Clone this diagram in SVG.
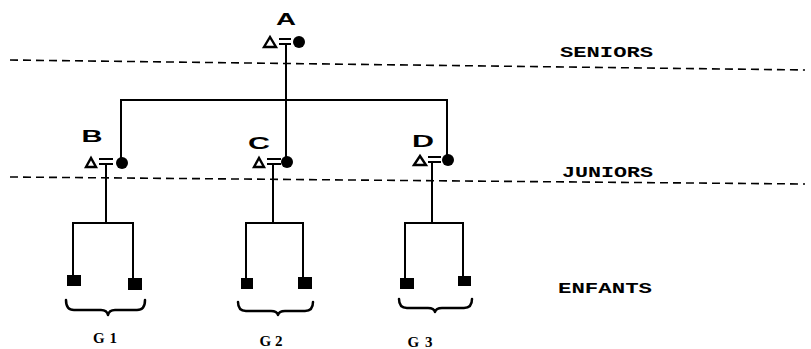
<svg xmlns="http://www.w3.org/2000/svg" width="811" height="349" viewBox="0 0 811 349">
<style>
.ln{stroke:#000;stroke-width:2;fill:none;stroke-linecap:square}
.dash{stroke:#000;stroke-width:1.6;fill:none;stroke-dasharray:8 5}
.tri{stroke:#000;stroke-width:2.4;fill:#fff;stroke-linejoin:miter}
.dot{fill:#000}
.sq{fill:#000}
.nl{font-family:"Liberation Sans",Arial,sans-serif;font-size:16px;font-weight:bold;text-anchor:middle;fill:#000}
.lv{font-family:"Liberation Mono","DejaVu Sans Mono",monospace;font-size:15px;font-weight:bold;fill:#000}
.gl{font-family:"Liberation Serif","Times New Roman",serif;font-size:15px;font-weight:bold;text-anchor:middle;fill:#000}
.br{stroke:#000;stroke-width:2.5;fill:none;stroke-linecap:round;stroke-linejoin:round}
</style>
<rect width="811" height="349" fill="#fff"/>
<g id="levels">
<line class="dash" x1="10" y1="60" x2="805" y2="70"/>
<line class="dash" x1="10" y1="177" x2="805" y2="184"/>
<text class="lv" x="560" y="57" textLength="93" lengthAdjust="spacingAndGlyphs">SENIORS</text>
<text class="lv" x="562" y="177" textLength="91" lengthAdjust="spacingAndGlyphs">JUNIORS</text>
<text class="lv" x="558" y="293" textLength="94" lengthAdjust="spacingAndGlyphs">ENFANTS</text>
</g>
<g id="connectors">
<line class="ln" x1="286" y1="44" x2="286" y2="157"/>
<line class="ln" x1="121" y1="100" x2="447" y2="100"/>
<line class="ln" x1="121" y1="100" x2="121" y2="158"/>
<line class="ln" x1="447" y1="100" x2="447" y2="155"/>
<line class="ln" x1="106" y1="164" x2="106" y2="223"/>
<line class="ln" x1="273" y1="164" x2="273" y2="223"/>
<line class="ln" x1="432" y1="162" x2="432" y2="223"/>
<polyline class="ln" points="73,277 73,223 133,223 133,279"/>
<polyline class="ln" points="246,279 246,223 303,223 303,278"/>
<polyline class="ln" points="405,279 405,223 463,223 463,277"/>
</g>
<g id="nodeA">
<text class="nl" x="286" y="25" textLength="20" lengthAdjust="spacingAndGlyphs">A</text>
<polygon class="tri" points="264,47 270,37 276,47"/>
<line class="ln" x1="280" y1="39" x2="290" y2="39"/>
<line class="ln" x1="280" y1="44" x2="290" y2="44"/>
<circle class="dot" cx="299" cy="42" r="6"/>
</g>
<g id="nodeB">
<text class="nl" x="92" y="142" textLength="21" lengthAdjust="spacingAndGlyphs">B</text>
<polygon class="tri" points="86,167 91,158 96,167"/>
<line class="ln" x1="100" y1="159" x2="112" y2="159"/>
<line class="ln" x1="100" y1="164" x2="112" y2="164"/>
<circle class="dot" cx="122" cy="163" r="6"/>
</g>
<g id="nodeC">
<text class="nl" x="259" y="149" textLength="22" lengthAdjust="spacingAndGlyphs">C</text>
<polygon class="tri" points="254,167 259,158 264,167"/>
<line class="ln" x1="268" y1="159" x2="280" y2="159"/>
<line class="ln" x1="268" y1="164" x2="280" y2="164"/>
<circle class="dot" cx="287" cy="162" r="6"/>
</g>
<g id="nodeD">
<text class="nl" x="423" y="147" textLength="22" lengthAdjust="spacingAndGlyphs">D</text>
<polygon class="tri" points="414,165 420,156 426,165"/>
<line class="ln" x1="429" y1="157" x2="440" y2="157"/>
<line class="ln" x1="429" y1="162" x2="440" y2="162"/>
<circle class="dot" cx="448" cy="160" r="6"/>
</g>
<g id="groupG1">
<rect class="sq" x="67" y="275" width="14" height="11"/>
<rect class="sq" x="128" y="278" width="14" height="12"/>
<path class="br" d="M66,300 Q66,310 74,310 L101,310 Q107,310 108,315 Q109,310 115,310 L137,310 Q145,310 145,300"/>
<text class="gl" x="105" y="343" textLength="24" lengthAdjust="spacing">G1</text>
</g>
<g id="groupG2">
<rect class="sq" x="241" y="278" width="12" height="11"/>
<rect class="sq" x="298" y="277" width="14" height="12"/>
<path class="br" d="M238,302 Q238,311 246,311 L271,311 Q277,311 278,315 Q279,311 285,311 L305,311 Q313,311 313,302"/>
<text class="gl" x="271" y="346" textLength="23" lengthAdjust="spacing">G2</text>
</g>
<g id="groupG3">
<rect class="sq" x="400" y="278" width="14" height="11"/>
<rect class="sq" x="458" y="276" width="13" height="10"/>
<path class="br" d="M399,299 Q399,308 407,308 L428,308 Q434,308 435,312 Q436,308 442,308 L464,308 Q472,308 472,299"/>
<text class="gl" x="420" y="347" textLength="25" lengthAdjust="spacing">G3</text>
</g>
</svg>
